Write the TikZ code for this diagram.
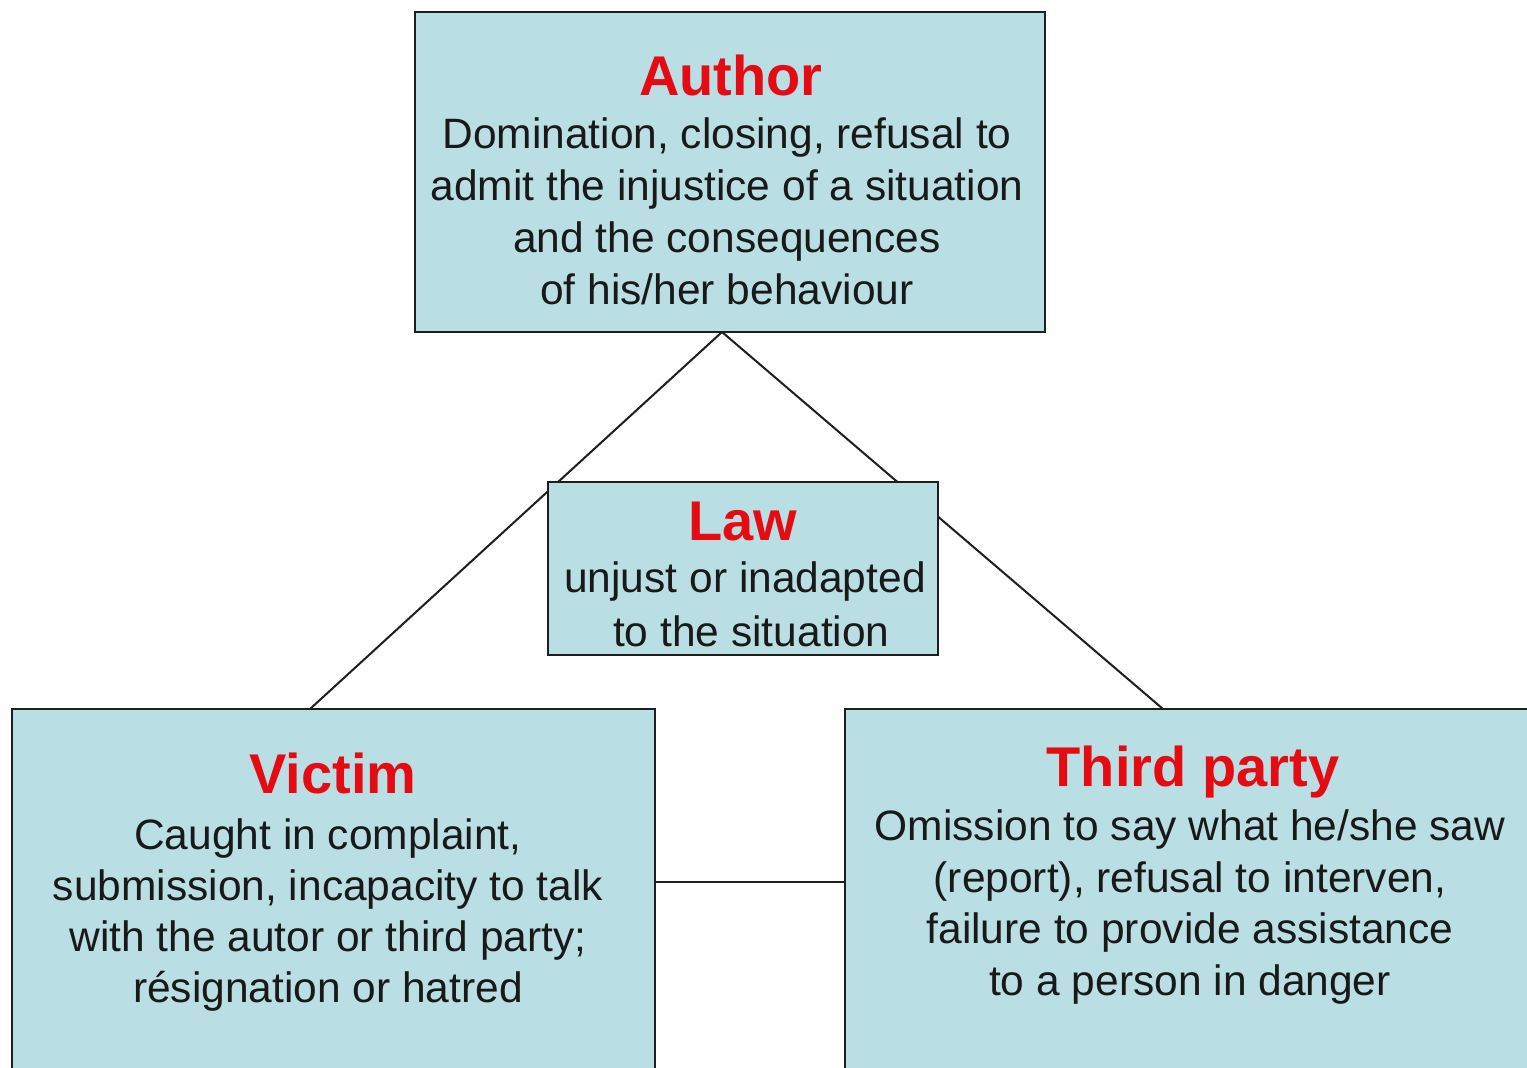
\documentclass[tikz,border=0pt]{standalone}
\usepackage{fontspec}
\setmainfont{Liberation Sans}
\definecolor{boxfill}{RGB}{185,222,227}
\definecolor{titlered}{RGB}{228,12,18}
\definecolor{edgecol}{RGB}{30,30,30}
\begin{document}
\begin{tikzpicture}[x=1pt,y=-1pt,
  box/.style={draw=edgecol, line width=1.8pt, fill=boxfill, inner sep=0pt, outer sep=0pt, anchor=north west},
  title/.style={text=titlered, font=\fontsize{56}{60}\selectfont\bfseries, inner sep=0pt, anchor=base},
  body/.style={text=black!90, font=\fontsize{42.5}{52}\selectfont, align=center, inner sep=0pt, anchor=base},
  conn/.style={draw=edgecol, line width=2pt}]
\useasboundingbox (0,0) rectangle (1527,1068);
\fill[white] (0,0) rectangle (1527,1068);
\clip (0,0) rectangle (1527,1068);

\node[box, minimum width=630pt, minimum height=320pt] (author) at (415,12) {};
\node[box, minimum width=643pt, minimum height=400pt] (victim) at (12,709) {};
\node[box, minimum width=720pt, minimum height=400pt] (third) at (845,709) {};

\coordinate (apex) at ([xshift=307pt]author.south west);
\coordinate (vtop) at ([xshift=298pt]victim.north west);
\coordinate (ttop) at ([xshift=318pt]third.north west);
\draw[conn] (apex) -- (vtop);
\draw[conn] (apex) -- (ttop);
\draw[conn] ([yshift=-173pt]victim.north east) -- ([yshift=-173pt]third.north west);

\node[box, minimum width=390pt, minimum height=173pt] (law) at (548,482) {};

\node[title] (authorT) at (731,95) {Author};
\node[body] (authorB) at (727,304) {Domination, closing, refusal to\\admit the injustice of a situation\\and the consequences\\of his/her behaviour};

\node[title] (lawT) at (743,540) {Law};
\node[body, font=\fontsize{42.5}{54}\selectfont] (lawB) at (745,646) {unjust or inadapted\\\hspace*{0.3em}to the situation};

\node[title] (victimT) at (333,793) {Victim};
\node[body, font=\fontsize{42.5}{51}\selectfont] (victimB) at (328,1002) {Caught in complaint,\\submission, incapacity to talk\\with the autor or third party;\\résignation or hatred};

\node[title] (thirdT) at (1193,786) {Third party};
\node[body, font=\fontsize{42.5}{51.5}\selectfont] (thirdB) at (1190,995) {Omission to say what he/she saw\\(report), refusal to interven,\\failure to provide assistance\\to a person in danger};
\end{tikzpicture}
\end{document}
